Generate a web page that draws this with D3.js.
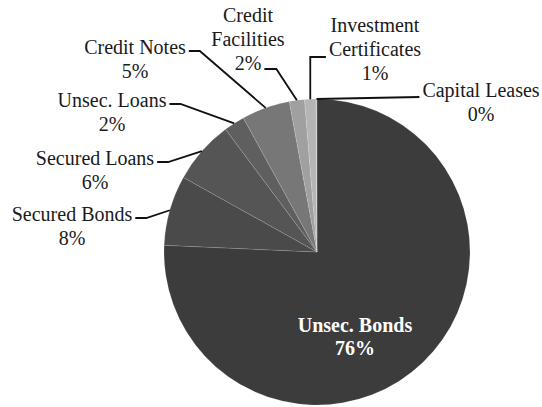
<!DOCTYPE html>
<html>
<head>
<meta charset="utf-8">
<script src="https://cdn.jsdelivr.net/npm/d3@7/dist/d3.min.js"></script>
<style>
  html, body { margin: 0; padding: 0; background: #fff; }
  svg { display: block; }
  text { font-family: "Liberation Serif", "Times New Roman", serif; }
</style>
</head>
<body>
<svg id="chart" width="542" height="407"></svg>
<script>
// ---- data ----
const categories = ["Unsec. Bonds", "Secured Bonds", "Secured Loans", "Unsec. Loans",
                    "Credit Notes", "Credit Facilities", "Investment Certificates", "Capital Leases"];
const values = [75.7, 7.4, 6.7, 2.2, 5.1, 1.6, 1.2, 0.1];
const pctLabels = ["76%", "8%", "6%", "2%", "5%", "2%", "1%", "0%"];
const labelLines = [["Unsec. Bonds"], ["Secured Bonds"], ["Secured Loans"], ["Unsec. Loans"],
                    ["Credit Notes"], ["Credit", "Facilities"], ["Investment", "Certificates"], ["Capital Leases"]];
const colors = ["#3c3c3c", "#4a4a4a", "#555555", "#5f5f5f", "#777777", "#a0a0a0", "#b5b5b5", "#c4c4c4"];

// ---- layout (label anchor: centre x, first baseline y; leader type) ----
const layout = [
  {x: 355, y: 332, inside: true},
  {x: 72,  y: 221, leader: "left"},
  {x: 95,  y: 165, leader: "left"},
  {x: 112, y: 107, leader: "left"},
  {x: 135, y: 54,  leader: "left"},
  {x: 248, y: 22,  leader: "leftLast"},
  {x: 375, y: 32,  leader: "elbow"},
  {x: 481, y: 97,  leader: "right"}
];
const lineH = 24;

const svg = d3.select("#chart");
const cx = 317, cy = 252, r = 153;
const g = svg.append("g").attr("transform", `translate(${cx},${cy})`);

const pie = d3.pie().sort(null).value(d => d).startAngle(0).endAngle(2 * Math.PI);
const arcs = pie(values);
const arc = d3.arc().innerRadius(0).outerRadius(r);

g.selectAll("path.slice").data(arcs).enter().append("path")
  .attr("class", "slice")
  .attr("d", arc)
  .attr("fill", (d, i) => colors[i])
  .attr("stroke", "rgba(255,255,255,0.18)")
  .attr("stroke-width", 0.7);

// labels
const labG = svg.append("g");
categories.forEach((c, i) => {
  const L = layout[i];
  const lines = labelLines[i].concat([pctLabels[i]]);
  const t = labG.append("text")
    .attr("text-anchor", "middle")
    .attr("font-size", 20)
    .attr("fill", L.inside ? "#ffffff" : "#1a1a1a")
    .attr("font-weight", L.inside ? "bold" : "normal");
  const tspans = lines.map((s, k) =>
    t.append("tspan").attr("x", L.x).attr("y", L.y + k * (L.inside ? 23 : lineH)).text(s));

  if (L.inside) return;
  // arc edge point at slice mid angle
  const a = (arcs[i].startAngle + arcs[i].endAngle) / 2;
  const ex = cx + r * Math.sin(a), ey = cy - r * Math.cos(a);
  let pts;
  if (L.leader === "left") {
    const w = tspans[0].node().getComputedTextLength();
    const sx = L.x + w / 2 + 3, sy = L.y - 3;
    pts = [[sx, sy], [sx + 11, sy], [ex, ey]];
  } else if (L.leader === "leftLast") {
    const k = lines.length - 1;
    const w = tspans[k].node().getComputedTextLength();
    const sx = L.x + w / 2 + 3, sy = L.y + k * lineH - 1;
    pts = [[sx, sy], [sx + 12, sy], [ex, ey]];
  } else if (L.leader === "elbow") {
    const w = tspans[1].node().getComputedTextLength();
    const sx = L.x - w / 2 - 3, sy = L.y + lineH + 1 - 0;
    pts = [[sx, sy], [ex, sy], [ex, ey]];
  } else {
    const w = tspans[0].node().getComputedTextLength();
    const sx = L.x - w / 2 - 3, sy = L.y;
    pts = [[sx, sy], [ex, ey]];
  }
  labG.append("path")
    .attr("d", d3.line()(pts))
    .attr("fill", "none")
    .attr("stroke", "#111")
    .attr("stroke-width", 1.8);
});
</script>
</body>
</html>
